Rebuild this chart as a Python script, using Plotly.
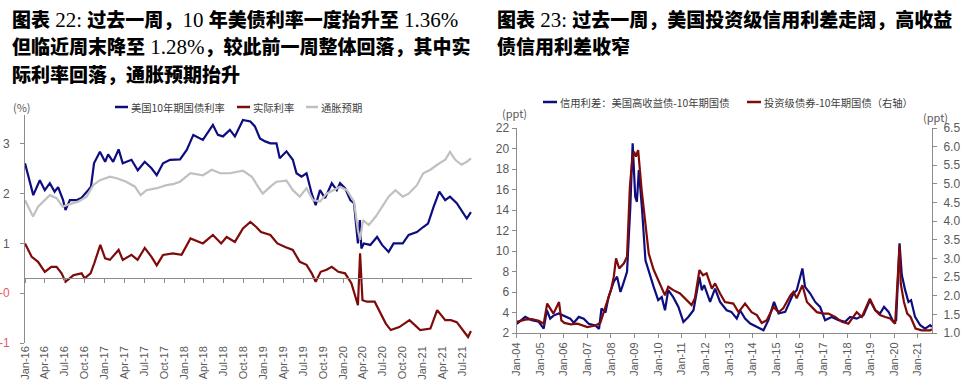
import plotly.graph_objects as go
import pandas as pd

W, H = 973, 392

# ---------------- Left chart data ----------------
ust10_dates = ["2016-01-01","2016-02-08","2016-03-09","2016-04-01","2016-04-24","2016-05-16","2016-06-01","2016-06-24",
               "2016-07-05","2016-07-25","2016-08-25","2016-09-17","2016-10-17","2016-10-30","2016-11-13","2016-12-10",
               "2017-01-03","2017-01-17","2017-02-09","2017-03-06","2017-03-25","2017-05-04","2017-06-02","2017-07-04",
               "2017-08-04","2017-08-28","2017-09-26","2017-10-28","2017-12-13","2018-01-13","2018-02-12","2018-03-28",
               "2018-05-13","2018-06-05","2018-06-28","2018-07-30","2018-08-22","2018-09-28","2018-11-01","2018-11-22",
               "2018-12-15","2019-01-08","2019-02-01","2019-03-01","2019-03-16","2019-04-16","2019-05-15","2019-06-01",
               "2019-06-24","2019-07-17","2019-08-10","2019-08-28","2019-09-17","2019-10-10","2019-11-10","2019-12-03",
               "2019-12-18","2020-01-10","2020-02-03","2020-02-20","2020-03-09","2020-03-18","2020-03-25","2020-04-05",
               "2020-05-05","2020-06-05","2020-06-28","2020-07-28","2020-08-20","2020-10-01","2020-10-28","2020-12-05",
               "2021-01-03","2021-01-25","2021-02-20","2021-03-18","2021-04-14","2021-05-06","2021-06-06","2021-06-28",
               "2021-07-22","2021-08-10"]
ust10_vals = [2.61,1.97,2.27,2.07,2.21,2.04,2.13,1.87,
              1.67,1.87,1.87,1.92,2.07,2.14,2.61,2.84,
              2.64,2.79,2.64,2.89,2.61,2.68,2.47,2.64,
              2.51,2.37,2.61,2.68,2.69,2.88,3.18,3.08,
              3.38,3.18,3.15,3.28,3.15,3.48,3.45,3.35,
              3.11,3.05,3.01,3.01,2.71,2.85,2.68,2.41,
              2.34,2.41,2.00,1.77,2.07,1.91,2.21,2.07,
              2.21,2.11,1.87,1.81,1.00,1.47,0.90,1.00,
              0.97,1.13,0.97,0.83,1.00,1.00,1.17,1.23,
              1.33,1.40,1.74,2.04,1.87,1.94,1.81,1.67,
              1.50,1.63]

real_dates = ["2016-01-01","2016-02-01","2016-03-01","2016-04-01","2016-05-01","2016-05-25","2016-06-17","2016-07-05",
              "2016-08-10","2016-09-17","2016-10-01","2016-10-28","2016-11-14","2016-12-12","2017-01-03","2017-01-25",
              "2017-03-06","2017-03-25","2017-05-04","2017-06-01","2017-07-04","2017-08-04","2017-08-28","2017-09-26",
              "2017-11-10","2017-12-20","2018-01-30","2018-03-28","2018-05-13","2018-06-20","2018-07-15","2018-08-22",
              "2018-09-28","2018-11-01","2018-11-28","2018-12-20","2019-02-01","2019-03-05","2019-04-10","2019-05-15",
              "2019-06-16","2019-07-17","2019-08-10","2019-08-28","2019-09-20","2019-10-17","2019-11-10","2019-12-10",
              "2020-01-10","2020-02-08","2020-03-09","2020-03-19","2020-03-30","2020-04-20","2020-05-25","2020-06-15",
              "2020-07-15","2020-08-07","2020-09-15","2020-11-01","2020-12-20","2021-02-05","2021-03-08","2021-04-14",
              "2021-05-10","2021-06-06","2021-07-05","2021-07-28","2021-08-10"]
real_vals = [1.00,0.73,0.63,0.43,0.53,0.53,0.40,0.23,
             0.36,0.40,0.30,0.40,0.60,0.97,0.70,0.67,
             0.87,0.67,0.77,0.67,0.91,0.73,0.56,0.77,
             0.80,0.77,1.10,1.00,1.17,1.00,1.13,1.03,
             1.30,1.43,1.33,1.23,1.17,1.00,0.93,0.87,
             0.63,0.57,0.40,0.23,0.43,0.47,0.53,0.43,
             0.40,0.20,-0.24,0.80,-0.14,-0.17,-0.17,-0.34,
             -0.61,-0.74,-0.68,-0.54,-0.74,-0.71,-0.34,-0.54,
             -0.54,-0.58,-0.74,-0.88,-0.76]

bei_dates = ["2016-01-01","2016-02-07","2016-03-01","2016-04-01","2016-04-24","2016-05-25","2016-06-22","2016-07-10",
             "2016-09-01","2016-10-10","2016-11-09","2016-12-10","2017-01-25","2017-02-25","2017-04-10","2017-05-20",
             "2017-06-15","2017-07-12","2017-08-28","2017-10-12","2017-11-10","2017-12-13","2018-01-30","2018-03-28",
             "2018-05-08","2018-06-15","2018-07-30","2018-09-28","2018-11-08","2018-12-06","2018-12-28","2019-02-01",
             "2019-03-01","2019-04-16","2019-05-15","2019-06-16","2019-07-17","2019-08-15","2019-09-17","2019-10-17",
             "2019-11-15","2019-12-18","2020-01-18","2020-02-20","2020-03-09","2020-03-19","2020-04-01","2020-04-28",
             "2020-05-30","2020-06-28","2020-07-28","2020-08-28","2020-10-01","2020-10-28","2020-12-05","2021-01-03",
             "2021-02-05","2021-03-08","2021-04-14","2021-05-06","2021-05-30","2021-06-28","2021-07-22","2021-08-10"]
bei_vals = [1.87,1.54,1.74,1.87,1.97,1.91,1.74,1.77,
            1.84,1.94,2.17,2.27,2.34,2.31,2.24,2.14,
            1.97,2.07,2.11,2.17,2.19,2.24,2.41,2.37,
            2.48,2.41,2.41,2.46,2.34,2.14,2.00,2.14,
            2.24,2.26,2.07,1.94,2.11,1.87,1.84,2.00,
            2.07,2.14,2.07,1.84,1.27,1.07,1.47,1.37,
            1.54,1.74,1.94,2.07,1.94,2.00,2.17,2.41,
            2.48,2.58,2.68,2.84,2.68,2.58,2.64,2.71]

left_ytick_vals = [-1, 0, 1, 2, 3]
left_ytick_text = ['<span style="color:#e8595f">-1</span>', '<span style="color:#e8595f">-0</span>', "1", "2", "3"]

# ---------------- Right chart data ----------------
hy_dates = ["2004-01-05","2004-05-15","2004-08-25","2004-12-10","2005-02-25","2005-04-15","2005-06-05","2005-07-26",
            "2005-10-15","2006-01-01","2006-04-12","2006-06-05","2006-08-22","2006-11-06","2007-01-22","2007-05-05",
            "2007-07-01","2007-08-08","2007-10-08","2007-11-25","2008-02-14","2008-04-05","2008-05-27","2008-07-09",
            "2008-09-06","2008-10-27","2008-12-02","2009-01-11","2009-02-06","2009-03-07","2009-04-27","2009-06-18",
            "2009-08-08","2009-10-23","2010-01-01","2010-02-25","2010-04-16","2010-06-06","2010-08-22","2010-11-10",
            "2011-01-26","2011-04-12","2011-07-01","2011-10-01","2011-11-06","2011-12-13","2012-03-14","2012-05-30",
            "2012-08-15","2012-11-25","2013-02-06","2013-05-01","2013-06-21","2013-09-06","2013-11-25","2014-03-08",
            "2014-06-18","2014-09-02","2014-11-28","2015-02-06","2015-05-20","2015-08-08","2015-09-24","2015-11-14",
            "2016-02-10","2016-03-22","2016-06-10","2016-08-26","2016-11-10","2017-01-26","2017-05-08","2017-08-22",
            "2017-12-02","2018-02-17","2018-05-30","2018-09-12","2018-12-20","2019-03-14","2019-05-26","2019-07-27",
            "2019-10-05","2019-12-20","2020-01-30","2020-03-23","2020-04-27","2020-06-18","2020-08-08","2020-09-17",
            "2020-11-18","2021-02-06","2021-04-23","2021-07-10","2021-08-05"]
hy_vals = [2.9,3.57,3.25,3.1,2.43,4.22,3.4,3.7,
           3.9,3.7,3.4,3.0,3.57,3.4,2.9,2.73,
           2.4,4.39,4.0,5.52,7.0,7.5,6.0,6.8,
           7.97,14.3,20.5,15.3,14.8,17.9,14.0,9.1,
           8.0,6.5,5.2,5.5,4.22,6.18,5.5,4.55,
           3.08,3.57,4.22,7.48,6.18,6.67,5.03,6.34,
           5.03,4.22,4.06,3.4,4.22,3.4,2.92,2.6,
           2.27,3.25,5.03,3.9,4.06,5.2,5.85,6.18,
           8.3,6.5,5.85,5.03,4.55,3.25,3.57,3.25,
           3.1,3.57,3.4,3.74,5.2,4.22,3.9,4.55,
           4.06,3.08,3.25,10.75,7.65,6.18,5.03,5.2,
           3.57,2.76,2.43,2.76,2.6]

ig_dates = ["2004-01-05","2004-05-15","2004-08-25","2004-12-10","2005-02-25","2005-04-20","2005-06-05","2005-07-26",
            "2005-10-20","2005-11-25","2006-01-10","2006-04-20","2006-08-01","2007-01-01","2007-05-05","2007-07-20",
            "2007-10-08","2008-01-01","2008-02-14","2008-03-20","2008-05-08","2008-07-20","2008-09-06","2008-10-20",
            "2008-11-25","2008-12-24","2009-01-20","2009-02-25","2009-04-20","2009-06-15","2009-08-08","2009-10-20",
            "2010-01-30","2010-04-16","2010-06-06","2010-08-22","2010-12-05","2011-03-14","2011-06-02","2011-07-23",
            "2011-10-01","2011-11-25","2012-01-20","2012-04-10","2012-05-30","2012-08-15","2012-10-30","2013-03-08",
            "2013-05-27","2013-09-06","2013-12-16","2014-03-08","2014-05-22","2014-08-08","2014-11-18","2015-02-06",
            "2015-04-20","2015-08-08","2015-09-24","2015-11-14","2016-02-10","2016-04-20","2016-07-01","2016-09-20",
            "2017-01-01","2017-03-18","2017-07-01","2017-10-12","2018-01-22","2018-05-30","2018-08-18","2018-12-20",
            "2019-03-14","2019-05-26","2019-08-15","2019-10-30","2020-01-15","2020-03-23","2020-04-10","2020-05-30",
            "2020-07-20","2020-09-10","2020-11-25","2021-03-01","2021-07-10","2021-08-05"]
ig_vals = [1.30,1.36,1.37,1.33,1.25,1.79,1.66,1.52,
           1.83,1.34,1.27,1.23,1.25,1.16,1.20,1.27,
           1.70,2.15,2.51,3.00,2.73,2.87,3.05,4.93,
           5.64,5.87,5.73,5.91,4.84,4.03,3.13,2.71,
           2.33,2.01,2.24,2.15,2.06,1.88,1.75,1.93,
           2.69,2.55,2.60,2.19,2.33,2.06,1.83,1.79,
           1.56,1.79,1.56,1.48,1.27,1.34,1.70,1.56,
           1.66,2.01,2.10,1.93,2.28,1.83,1.70,1.56,
           1.52,1.52,1.43,1.30,1.25,1.56,1.43,1.92,
           1.61,1.48,1.43,1.39,1.25,3.35,2.33,1.83,
           1.52,1.43,1.12,1.07,1.07,1.10]

# ---------------- colours / fonts ----------------
NAVY = "#0d0d80"
DRED = "#7f0a0a"
GREY = "#c0c0c0"
AXC = "#8c8c8c"
TXT = "#595959"
CJK = "Noto Sans CJK SC"
TICKF = "Liberation Sans"

def px(x):
    return x / W

def py(y):
    return 1 - y / H

fig = go.Figure()

# left chart traces
fig.add_trace(go.Scatter(x=ust10_dates, y=ust10_vals, mode="lines", line=dict(color=NAVY, width=2.2),
                         xaxis="x", yaxis="y", showlegend=False))
fig.add_trace(go.Scatter(x=bei_dates, y=bei_vals, mode="lines", line=dict(color=GREY, width=2.2),
                         xaxis="x", yaxis="y", showlegend=False))
fig.add_trace(go.Scatter(x=real_dates, y=real_vals, mode="lines", line=dict(color=DRED, width=2.2),
                         xaxis="x", yaxis="y", showlegend=False))
# right chart traces
fig.add_trace(go.Scatter(x=hy_dates, y=hy_vals, mode="lines", line=dict(color=NAVY, width=2.2),
                         xaxis="x3", yaxis="y3", showlegend=False))
fig.add_trace(go.Scatter(x=ig_dates, y=ig_vals, mode="lines", line=dict(color=DRED, width=2.2),
                         xaxis="x3", yaxis="y4", showlegend=False))

# ---------- left chart axes ----------
L_XD = [px(25), px(472)]
L_YD = [py(343), py(115)]
L_YR = [-1, 3.58]
L_CROSS = 0.3
cross_pos = L_YD[0] + (L_CROSS - L_YR[0]) / (L_YR[1] - L_YR[0]) * (L_YD[1] - L_YD[0])
l_ticks = pd.date_range("2016-01-01", "2021-07-01", freq="3MS")
l_ticktext = [d.strftime("%b-%y") for d in l_ticks]
l_xr = ["2016-01-01", "2021-08-15"]

fig.update_layout(
    xaxis=dict(domain=L_XD, anchor="y", type="date", range=l_xr, tickvals=list(l_ticks), ticktext=l_ticktext,
               tickangle=-90, showline=False, ticks="", showgrid=False, zeroline=False, automargin=False,
               tickfont=dict(family=TICKF, size=11, color=TXT)),
    xaxis2=dict(overlaying="x", anchor="free", position=cross_pos, type="date", range=l_xr,
                tickvals=list(l_ticks), showticklabels=False, showline=True, linecolor=AXC, linewidth=1,
                ticks="outside", ticklen=4, tickcolor=AXC, showgrid=False, zeroline=False, automargin=False),
    yaxis=dict(domain=L_YD, anchor="x", range=L_YR, tickvals=left_ytick_vals, ticktext=left_ytick_text,
               showline=True, linecolor=AXC, linewidth=1, ticks="outside", ticklen=4, tickcolor=AXC,
               showgrid=False, zeroline=False, ticklabelstandoff=8, automargin=False,
               tickfont=dict(family=TICKF, size=12, color=TXT)),
)
# dummy trace so xaxis2 is rendered
fig.add_trace(go.Scatter(x=[l_xr[0]], y=[None], xaxis="x2", yaxis="y", showlegend=False, hoverinfo="skip"))

# ---------- right chart axes ----------
R_XD = [px(516.5), px(932)]
R_YD = [py(333), py(128)]
r_ticks = pd.date_range("2004-01-01", "2021-01-01", freq="YS")
r_ticktext = [d.strftime("%b-%y") for d in r_ticks]
fig.update_layout(
    xaxis3=dict(domain=R_XD, anchor="y3", type="date", range=["2004-01-01", "2021-08-07"],
                tickvals=list(r_ticks), ticktext=r_ticktext, tickangle=-90, showline=True, linecolor=AXC,
                ticks="outside", ticklen=4, tickcolor=AXC, showgrid=False, zeroline=False, automargin=False,
                tickfont=dict(family=TICKF, size=11, color=TXT)),
    yaxis3=dict(domain=R_YD, anchor="x3", range=[2, 22], dtick=2, tick0=2, showline=True, linecolor=AXC,
                ticks="outside", ticklen=4, tickcolor=AXC, showgrid=False, zeroline=False, automargin=False,
                tickfont=dict(family=TICKF, size=12, color=TXT)),
    yaxis4=dict(domain=R_YD, anchor="x3", overlaying="y3", side="right", range=[1, 6.5], dtick=0.5, tick0=1,
                tickformat=".1f", showline=True, linecolor=AXC, ticks="outside", ticklen=4, tickcolor=AXC,
                showgrid=False, zeroline=False, ticklabelstandoff=4, automargin=False,
                tickfont=dict(family=TICKF, size=12, color=TXT)),
)

# ---------- titles ----------
def ser(t):
    return '<span style="font-family:Liberation Serif;font-weight:normal;font-size:21px">' + t + '</span>'

titles = [
    (10, 19, "图表" + ser(" 22: ") + "过去一周，" + ser("10 ") + "年美债利率一度抬升至" + ser(" 1.36%")),
    (10, 46, "但临近周末降至" + ser(" 1.28%") + "，较此前一周整体回落，其中实"),
    (10, 73, "际利率回落，通胀预期抬升"),
    (495, 19, "图表" + ser(" 23: ") + "过去一周，美国投资级信用利差走阔，高收益"),
    (495, 46, "债信用利差收窄"),
]
annotations = []
for x0, y0, t in titles:
    annotations.append(dict(x=px(x0), y=py(y0), xref="paper", yref="paper", xanchor="left", yanchor="middle",
                            text=t, showarrow=False,
                            font=dict(family=CJK, size=19, color="#000000", weight=900)))

# ---------- unit labels ----------
for x0, y0, t in [(11, 107, "(%)"), (500, 113, "(ppt)"), (921, 117, "(ppt)")]:
    annotations.append(dict(x=px(x0), y=py(y0), xref="paper", yref="paper", xanchor="left", yanchor="middle",
                            text=t, showarrow=False, font=dict(family=CJK, size=11, color=TXT)))

# ---------- legends (manual) ----------
legend_items = [
    (115, 128, 107, NAVY, "美国10年期国债利率"),
    (237, 250, 107, DRED, "实际利率"),
    (306, 318, 107, GREY, "通胀预期"),
    (543, 557, 102, NAVY, "信用利差：美国高收益债-10年期国债"),
    (747, 761, 102, DRED, "投资级债券-10年期国债（右轴）"),
]
shapes = []
for x0, x1, y0, c, t in legend_items:
    shapes.append(dict(type="line", xref="paper", yref="paper", x0=px(x0), x1=px(x1), y0=py(y0), y1=py(y0),
                       line=dict(color=c, width=2.5)))
    annotations.append(dict(x=px(x1 + 0.5), y=py(y0), xref="paper", yref="paper", xanchor="left", yanchor="middle",
                            text=t, showarrow=False, font=dict(family=CJK, size=10.3, color="#404040")))

fig.update_layout(
    width=W, height=H, margin=dict(l=0, r=0, t=0, b=0, autoexpand=False),
    paper_bgcolor="white", plot_bgcolor="white",
    annotations=annotations, shapes=shapes, showlegend=False,
    font=dict(family=CJK),
)

fig.write_html("out.html", config={"displayModeBar": False},
               post_script="document.body.style.margin='0px';document.body.style.overflow='hidden';")
